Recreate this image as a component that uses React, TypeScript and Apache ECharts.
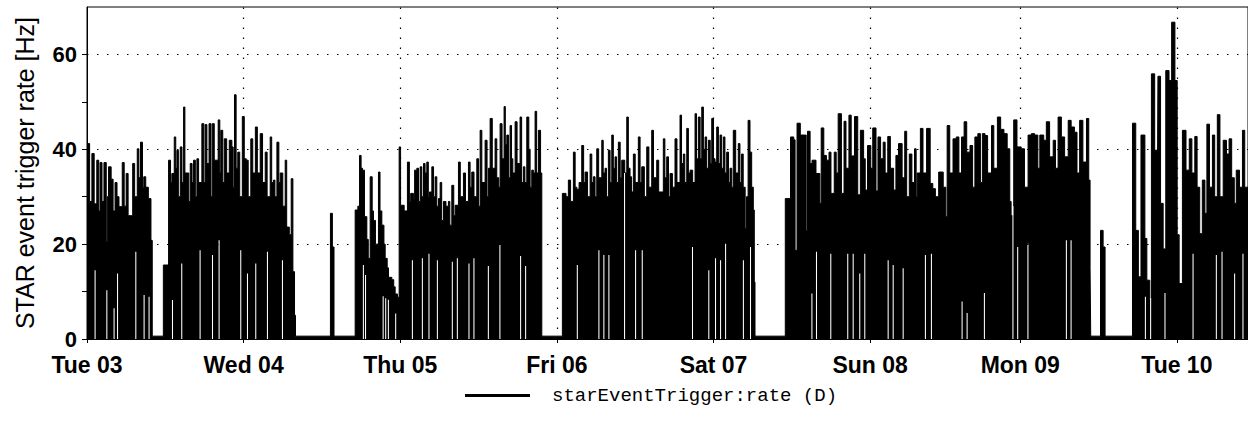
import React, { useEffect, useRef } from 'react';
import * as echarts from 'echarts';

// Hours elapsed since Tue 03 00:00 (DST change on Sun 08 makes that day 23 h long)
const dayTicks = [0, 24, 48, 72, 96, 120, 143, 167];
const dayLabels = ['Tue 03', 'Wed 04', 'Thu 05', 'Fri 06', 'Sat 07', 'Sun 08', 'Mon 09', 'Tue 10'];
const yLabelValues = [0, 20, 40, 60];
const yTickValues = [0, 10, 20, 30, 40, 50, 60];
const seriesName = 'starEventTrigger:rate (D)';

// upper envelope of the trigger rate [hour, Hz]
const segTue03: [number, number][] = [
  [0, 41.2], [0.4, 29], [0.75, 39.1], [1.1, 28.5], [1.5, 37.7], [1.8, 27], [2.0, 37.2], [2.3, 29], [2.6, 37.2],
  [2.95, 20.5], [3.1, 30], [3.3, 36.3], [3.7, 33.7], [4.0, 27], [4.3, 33], [4.6, 30], [4.9, 27.9], [5.4, 37.2],
  [5.7, 28], [6.0, 34.9], [6.3, 26], [7.0, 37], [7.3, 30], [7.7, 40.1], [7.95, 34], [8.2, 41.5], [8.5, 32],
  [8.7, 34.2], [9.0, 32], [9.4, 29.6], [9.8, 20.8], [10.0, 0.6],
];
const segWed04: [number, number][] = [
  [11.7, 15.6], [12.5, 37.7], [12.8, 33], [13.0, 34.9], [13.37, 42.6], [13.6, 36], [13.78, 39.8], [14.0, 30],
  [14.29, 40.5], [14.55, 33], [14.8, 48.9], [15.0, 35], [15.6, 29], [15.82, 37], [16.1, 33], [16.33, 37.7],
  [16.6, 30], [16.84, 38], [17.1, 33], [17.6, 45.4], [17.9, 33], [18.1, 45.2], [18.37, 37], [18.7, 45.4],
  [19.0, 30], [19.2, 45.4], [19.5, 37.7], [20.1, 46.2], [20.35, 35], [20.5, 44], [20.8, 33], [21.03, 42.2],
  [21.4, 35], [21.8, 41.9], [22.2, 40.5], [22.4, 32], [22.6, 51.5], [22.85, 36], [23.1, 39.4], [23.4, 30],
  [23.8, 46.9], [24.1, 38], [24.4, 37.7], [24.7, 30], [25.1, 42.2], [25.4, 35], [25.8, 44.7], [26.1, 35],
  [26.54, 43.3], [26.9, 33], [27.31, 39.4], [27.6, 30], [28.07, 42.6], [28.3, 33], [28.58, 33.5], [28.8, 30],
  [29.1, 41.5], [29.4, 33], [29.61, 35], [30.0, 28], [30.37, 37.7], [30.6, 23.6], [31.0, 22], [31.29, 33.8],
  [31.55, 14.2], [31.8, 5], [31.95, 0.6], [37.3, 26.5], [37.6, 19.4], [37.85, 0.6],
];
const segThu05: [number, number][] = [
  [41.09, 27.2], [41.5, 28], [41.76, 38.7], [42.0, 36], [42.22, 35.6], [42.52, 25.8], [42.88, 21], [43.1, 17],
  [43.39, 34.2], [43.7, 27], [43.9, 25], [44.2, 20], [44.66, 35.2], [44.9, 27], [45.18, 24], [45.5, 20],
  [45.69, 17], [46.0, 15], [46.2, 13], [46.71, 12.5], [47.0, 11], [47.22, 9.5], [47.57, 8.8], [47.83, 40.5],
  [48.05, 28.2], [48.6, 27], [49.1, 37.3], [49.4, 29], [49.6, 30.7], [50.02, 29.3], [50.2, 35.6], [50.54, 36],
  [50.8, 29], [51.05, 36.3], [51.3, 30], [51.56, 37], [51.8, 35], [52.07, 37.3], [52.3, 30], [52.48, 31],
  [52.84, 36.3], [53.1, 30], [53.35, 34.2], [53.6, 28], [53.86, 29.6], [54.11, 33], [54.35, 25], [54.62, 29],
  [55.0, 28], [55.38, 29], [55.6, 24], [55.9, 32.4], [56.2, 26], [56.41, 28.2], [56.92, 37.3], [57.2, 30],
  [57.68, 35], [58.0, 29], [58.45, 37.3], [58.7, 32], [58.96, 35.2], [59.3, 30], [59.73, 38], [60.0, 28],
  [60.24, 44], [60.5, 33], [61.0, 41.9], [61.3, 30], [61.51, 36], [61.77, 46.5], [62.1, 36], [62.53, 42.2],
  [62.79, 34], [63.1, 32], [63.3, 45.4], [63.6, 38], [63.91, 49], [64.1, 41], [64.33, 43], [64.6, 34],
  [64.83, 45], [65.05, 38], [65.25, 35], [65.6, 45.8], [65.9, 37], [66.36, 46.8], [66.6, 33], [66.87, 36.3],
  [67.1, 33], [67.39, 46.8], [67.7, 40], [67.9, 32], [68.15, 35.6], [68.4, 35], [68.66, 48], [68.9, 35],
  [69.17, 44], [69.5, 35], [69.69, 0.6],
];
const segFriSat: [number, number][] = [
  [72.84, 30.7], [73.4, 30], [73.76, 33.5], [74.1, 29], [74.53, 39.4], [74.8, 32], [75.05, 31.6], [75.4, 33],
  [75.81, 40.8], [76.1, 33], [76.32, 35.2], [76.7, 30], [77.09, 39], [77.35, 33], [77.59, 34.2], [77.85, 30],
  [78.11, 40.1], [78.4, 34], [78.88, 41.9], [79.1, 35], [79.38, 36], [79.6, 30], [79.89, 39.8], [80.15, 33],
  [80.41, 43], [80.65, 36], [80.91, 38.4], [81.15, 33], [81.42, 41.5], [81.7, 34], [81.94, 37.7], [82.4, 35],
  [82.71, 46.8], [82.95, 36], [83.21, 34.2], [83.45, 31], [83.72, 39], [84.0, 33], [84.48, 42.6], [84.75, 33],
  [85.0, 36.3], [85.4, 30], [85.77, 40.5], [86.1, 32], [86.53, 44], [86.8, 34], [87.3, 37.7], [87.6, 31],
  [88.31, 42.2], [88.55, 34], [88.83, 38.4], [89.1, 30], [89.34, 34.9], [89.7, 32], [90.1, 42.2], [90.4, 33],
  [90.87, 47.2], [91.1, 37], [91.38, 39], [91.6, 33], [91.9, 44.4], [92.15, 35], [92.41, 35.6], [92.8, 33],
  [93.17, 47.5], [93.4, 38], [93.68, 46.8], [93.95, 38], [94.2, 48.9], [94.45, 40], [94.71, 42.6], [94.95, 36],
  [95.22, 41.9], [95.5, 37], [95.73, 46.5], [96.0, 38], [96.23, 37.3], [96.49, 44.7], [96.75, 37], [97.0, 43],
  [97.25, 36], [97.51, 42.6], [97.75, 35], [98.02, 39.4], [98.3, 33], [98.53, 36], [98.8, 32], [99.03, 44],
  [99.4, 35], [99.8, 41.2], [100.05, 33], [100.3, 39], [100.55, 32], [100.85, 23.3], [101.05, 30], [101.3, 46.1],
  [101.59, 39.4], [101.85, 32], [102.1, 27.2], [102.25, 12], [102.36, 0.6],
];
const segSunMon: [number, number][] = [
  [107.0, 29.6], [107.8, 42.6], [108.3, 42], [108.5, 18.7], [108.8, 45.5], [109.3, 43], [109.9, 43], [110.2, 22.9],
  [110.4, 43.8], [110.8, 37], [111.1, 37.7], [111.7, 34.9], [112.3, 28.6], [112.5, 44.5], [112.9, 38.7],
  [113.3, 37.7], [113.7, 39.4], [114.0, 30.7], [114.5, 39.4], [114.8, 35], [115.1, 47.5], [115.6, 30.7],
  [116.0, 45.9], [116.3, 36], [116.75, 47.2], [117.1, 38.6], [117.6, 46.9], [118.1, 30.4], [118.5, 44],
  [119.0, 38], [119.25, 31.4], [119.6, 40.8], [120.1, 36], [120.4, 44.5], [120.9, 31.2], [121.2, 42.6],
  [121.6, 38], [122.0, 41.5], [122.3, 35], [122.7, 42.7], [123.1, 36], [123.6, 31.4], [123.95, 38.7],
  [124.35, 41.2], [124.9, 34], [125.3, 43.8], [125.6, 30], [126.0, 39], [126.4, 33], [126.8, 40.1], [127.05, 30],
  [127.2, 35], [127.7, 44.4], [128.1, 35], [128.65, 44.4], [129.2, 32.8], [129.6, 31.7], [130.0, 30],
  [130.5, 35.2], [131.2, 32], [131.6, 25.8], [131.8, 45], [132.2, 35], [132.7, 42.2], [133.2, 42.6], [133.6, 35],
  [134.0, 42.6], [134.4, 45.8], [134.8, 39.4], [135.3, 40.8], [135.7, 32], [136.05, 42.6], [136.5, 43.3],
  [136.9, 33], [137.2, 43.3], [137.6, 42.9], [138.0, 35], [138.6, 45], [138.95, 36], [139.5, 46.8], [140.0, 44.2],
  [140.5, 43.3], [141.0, 40.1], [141.4, 29], [141.6, 26], [142.0, 46.2], [142.5, 40.5], [143.15, 40.1],
  [143.65, 32], [144.2, 43], [144.7, 43.3], [145.2, 43], [145.7, 36], [146.0, 43], [146.6, 41.9], [147.0, 45.8],
  [147.5, 38.4], [148.05, 41.9], [148.4, 36], [148.8, 46.8], [149.3, 42.6], [149.8, 38.4], [150.35, 46.1],
  [150.8, 44.7], [151.3, 43.6], [151.7, 35], [152.1, 46.1], [152.6, 37.3], [153.15, 46.5], [153.5, 33.5],
  [153.7, 15], [153.8, 0.6], [155.3, 22.9], [155.7, 19.4], [156.0, 0.6],
];
const segTue10: [number, number][] = [
  [160.2, 45.5], [160.7, 22.9], [161.1, 13.1], [161.5, 43], [162.1, 21.2], [162.4, 12.4], [162.85, 8.2],
  [163.1, 55.9], [163.6, 39.8], [164.0, 28], [164.1, 55.4], [164.5, 28.6], [164.9, 19], [165.3, 56.6],
  [165.8, 54.5], [166.2, 66.8], [166.7, 54.5], [167.05, 22], [167.35, 11.7], [167.85, 44], [168.4, 35.6],
  [168.9, 42.2], [169.3, 35], [169.75, 42.7], [170.1, 32], [170.5, 22.2], [170.9, 33.5], [171.3, 26.5],
  [171.6, 45.3], [172.0, 32], [172.45, 43], [172.8, 30], [173.2, 47.3], [173.6, 30], [174.1, 41.9], [174.6, 39],
  [175.0, 42.2], [175.4, 34], [175.8, 28.6], [176.1, 35.6], [176.6, 32], [177.05, 44], [177.4, 32], [177.9, 32],
];

// short moments where the rate never fell to zero: [hour, lowest rate in that moment]
const lowSlivers: [number, number][] = [
  [1.16, 14.5], [2.96, 10.3], [4.07, 6.5], [4.6, 13.8], [7.4, 18.4], [8.67, 9.3], [9.43, 8.9],
  [13.02, 8.2], [14.44, 15.9], [17.25, 18.7], [19.15, 17.7], [20.16, 20.8], [23.48, 18.7], [24.51, 13.8],
  [25.78, 15.9], [27.57, 18.4], [29.87, 16.6],
  [42.27, 15.6], [42.6, 13.5], [45.3, 9], [45.69, 8.6], [46.1, 8.3], [47.22, 5.4],
  [49.78, 16.6], [51.31, 17], [52.32, 18], [53.61, 16.6], [55.9, 16.3], [56.67, 17], [58.45, 15.9],
  [59.21, 17], [61.42, 15.4], [63.19, 19.8], [66.36, 17.5], [67.13, 15.4],
  [75.05, 15.6], [78.36, 18.7], [79.12, 17.7], [79.89, 17.7], [82.29, 35], [83.98, 18.7], [85.0, 18.7],
  [92.7, 19.4], [95.2, 14.5], [96.23, 17], [97.0, 16.6], [97.77, 20.1], [100.5, 16.6], [101.59, 19.4],
  [111.0, 9.6], [111.7, 18.4], [113.89, 18], [116.49, 18], [117.32, 18], [118.33, 13.8], [119.1, 18],
  [122.68, 16.6], [123.45, 15.6], [124.98, 14.9], [128.39, 17.7], [129.31, 18], [134.01, 7.9], [134.78, 5.5],
  [137.43, 9.7], [141.8, 28], [142.53, 19.4], [144.1, 20.1], [149.99, 20.8], [150.71, 20.8],
  [162.1, 8.9], [162.9, 8.6], [165.1, 9.7], [169.4, 18], [172.97, 17.7], [173.84, 18.4], [175.77, 13.8], [177.05, 18],
];

const SANS = '"Liberation Sans", Arial, Helvetica, sans-serif';
const MONO = '"Liberation Mono", "DejaVu Sans Mono", monospace';

export default function App() {
  const ref = useRef<HTMLDivElement | null>(null);

  useEffect(() => {
    if (!ref.current) return;
    const chart = echarts.init(ref.current, undefined, { renderer: 'svg' });

    const envelope = [...segTue03, ...segWed04, ...segThu05, ...segFriSat, ...segSunMon, ...segTue10];
    const sliverWidth = 0.16;
    const sliverPts: [number, number][] = [];
    lowSlivers.forEach(([t, h]) => {
      sliverPts.push([t, 0], [t, h], [t + sliverWidth, h], [t + sliverWidth, 0]);
    });

    const dotted = { color: '#000', width: 1.2, type: [1.5, 8.5] as number[] };

    chart.setOption({
      animation: false,
      backgroundColor: '#fff',
      grid: { left: 87, right: 0, top: 7, bottom: 84, show: true, borderColor: '#000', borderWidth: 1 },
      legend: {
        data: [seriesName],
        left: 460,
        top: 381,
        icon: 'rect',
        itemWidth: 65,
        itemHeight: 3,
        selectedMode: false,
        textStyle: { fontFamily: MONO, fontSize: 19, color: '#000', padding: [0, 0, 0, 17] },
      },
      xAxis: {
        type: 'value',
        min: 0,
        max: 177.9,
        z: 5,
        axisLine: { show: true, lineStyle: { color: '#000', width: 1 } },
        axisTick: { show: true, customValues: dayTicks, length: 4, lineStyle: { color: '#000' } },
        axisLabel: {
          customValues: dayTicks,
          formatter: (v: number) => {
            const i = dayTicks.indexOf(v);
            return i >= 0 ? dayLabels[i] : '';
          },
          color: '#000',
          fontFamily: SANS,
          fontWeight: 'bold',
          fontSize: 23,
          margin: 14,
        },
        splitLine: { show: false },
      },
      yAxis: {
        type: 'value',
        min: 0,
        max: 70,
        interval: 10,
        z: 5,
        name: 'STAR event trigger rate [Hz]',
        nameLocation: 'middle',
        nameGap: 50,
        nameTextStyle: { fontFamily: SANS, fontSize: 25, color: '#000' },
        axisLine: { show: true, lineStyle: { color: '#000', width: 1 } },
        axisTick: { show: true, customValues: yTickValues, length: 5, lineStyle: { color: '#000' } },
        axisLabel: {
          customValues: yLabelValues,
          color: '#000',
          fontFamily: SANS,
          fontWeight: 'bold',
          fontSize: 22,
          margin: 10,
        },
        splitLine: { show: false },
      },
      series: [
        {
          name: 'grid',
          type: 'line',
          data: [],
          z: 1,
          silent: true,
          markLine: {
            silent: true,
            symbol: 'none',
            label: { show: false },
            lineStyle: dotted,
            data: [
              ...dayTicks.slice(1).map((d) => ({ xAxis: d })),
              ...yLabelValues.slice(1).map((v) => ({ yAxis: v })),
            ],
          },
        },
        {
          name: seriesName,
          type: 'line',
          step: 'end',
          data: envelope,
          z: 2,
          color: '#000',
          symbol: 'none',
          showSymbol: false,
          silent: true,
          lineStyle: { color: '#000', width: 1 },
          areaStyle: { color: '#000', opacity: 1 },
        },
        {
          name: 'slivers',
          type: 'line',
          data: sliverPts,
          z: 3,
          symbol: 'none',
          showSymbol: false,
          silent: true,
          lineStyle: { width: 0, color: '#fff' },
          areaStyle: { color: '#fff', opacity: 1 },
        },
      ],
    });

    return () => chart.dispose();
  }, []);

  return (
    <div
      ref={ref}
      style={{ position: 'absolute', left: 0, top: 0, width: 1248, height: 423, background: '#fff' }}
    />
  );
}
